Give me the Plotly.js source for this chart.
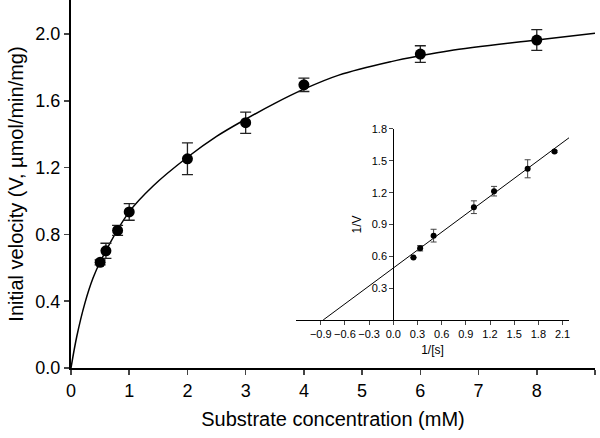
<!DOCTYPE html>
<html>
<head>
<meta charset="utf-8">
<script src="https://cdn.plot.ly/plotly-3.0.1.min.js"></script>
<style>html,body{margin:0;padding:0;background:#fff;}#chart{width:600px;height:438px;}</style>
</head>
<body>
<div id="chart"></div>
<script>
// Main plot: substrate concentration (mM) vs initial velocity
const substrate = [0.5, 0.6, 0.8, 1, 2, 3, 4, 6, 8];
const velocity = [0.633, 0.702, 0.824, 0.935, 1.253, 1.469, 1.696, 1.880, 1.964];
const velocityErr = [0.015, 0.045, 0.03, 0.05, 0.095, 0.064, 0.04, 0.05, 0.062];

// Fitted curve
const curveS = [0, 0.1, 0.24, 0.38, 0.5, 1.0, 1.41, 2.0, 2.5, 3.0, 3.5, 4.0, 4.6, 5.5, 6.0, 6.5, 8.0, 9.0];
const curveV = [0, 0.19, 0.39, 0.54, 0.635, 0.935, 1.09, 1.262, 1.387, 1.49, 1.585, 1.67, 1.754, 1.835, 1.87, 1.90, 1.965, 2.005];

// Inset: Lineweaver-Burk
const invS = [0.25, 0.333, 0.5, 1.0, 1.25, 1.667, 2.0];
const invV = [0.588, 0.676, 0.795, 1.063, 1.214, 1.425, 1.588];
const invVErr = [0.0, 0.025, 0.06, 0.06, 0.045, 0.085, 0.01];
const lbLineX = [-0.87, 2.18];
const lbLineY = [0, 1.717];

const mainXTicks = [0, 1, 2, 3, 4, 5, 6, 7, 8, 9];
const mainYTicks = [0.0, 0.4, 0.8, 1.2, 1.6, 2.0];
const insetXTicks = [-0.9, -0.6, -0.3, 0.0, 0.3, 0.6, 0.9, 1.2, 1.5, 1.8, 2.1];
const insetYTicks = [0.3, 0.6, 0.9, 1.2, 1.5, 1.8];

const FONT = 'Liberation Sans, Arial, Helvetica, sans-serif';

const traces = [
  {x: curveS, y: curveV, mode: 'lines', line: {color: '#000', width: 1.5, shape: 'spline', smoothing: 1}, hoverinfo: 'skip', xaxis: 'x', yaxis: 'y'},
  {x: substrate, y: velocity, mode: 'markers', marker: {color: '#000', size: 11},
   error_y: {type: 'data', array: velocityErr, visible: true, color: '#222', thickness: 1.3, width: 5.5},
   xaxis: 'x', yaxis: 'y'},
  {x: lbLineX, y: lbLineY, mode: 'lines', line: {color: '#000', width: 1}, xaxis: 'x2', yaxis: 'y2'},
  {x: invS, y: invV, mode: 'markers', marker: {color: '#000', size: 6},
   error_y: {type: 'data', array: invVErr, visible: true, color: '#444', thickness: 1, width: 3},
   xaxis: 'x2', yaxis: 'y2'}
];

const layout = {
  width: 600, height: 438,
  margin: {l: 71, r: 5, t: 0, b: 70},
  paper_bgcolor: '#fff', plot_bgcolor: 'rgba(0,0,0,0)',
  showlegend: false,
  font: {family: FONT, color: '#000'},
  xaxis: {
    domain: [0, 1], range: [0, 9], tickvals: mainXTicks, ticks: 'outside', ticklen: 5, tickwidth: 1.5,
    showline: true, linewidth: 2, linecolor: '#000', showgrid: false, zeroline: false,
    tickfont: {size: 18, family: FONT}, fixedrange: true,
    title: {text: 'Substrate concentration (mM)', font: {size: 20, family: FONT}, standoff: 12}
  },
  yaxis: {
    domain: [0, 1], range: [0, 2.204], tickvals: mainYTicks, tickformat: '.1f', ticks: 'outside', ticklen: 5, tickwidth: 1.5,
    showline: true, linewidth: 2, linecolor: '#000', showgrid: false, zeroline: false,
    tickfont: {size: 18, family: FONT},
    title: {text: 'Initial velocity (V, µmol/min/mg)', font: {size: 20, family: FONT}, standoff: 6}
  },
  xaxis2: {
    domain: [0.4294, 0.9504], anchor: 'y2', range: [-1.207, 2.18], tickvals: insetXTicks, tickformat: '.1f',
    ticks: 'outside', ticklen: 4, tickwidth: 1, showline: true, linewidth: 1, linecolor: '#000',
    showgrid: false, zeroline: false, tickfont: {size: 11, family: FONT},
    title: {text: '1/[s]', font: {size: 12, family: FONT}, standoff: 6}
  },
  yaxis2: {
    domain: [0.1304, 0.6495], anchor: 'free', position: 0.615, range: [0, 1.8], tickvals: insetYTicks, tickformat: '.1f',
    ticks: 'outside', ticklen: 4, tickwidth: 1, showline: true, linewidth: 1, linecolor: '#000',
    showgrid: false, zeroline: false, tickfont: {size: 11, family: FONT},
    title: {text: '1/V', font: {size: 12, family: FONT}, standoff: 6}
  }
};

Plotly.newPlot('chart', traces, layout, {displayModeBar: false, staticPlot: true});
</script>
</body>
</html>
